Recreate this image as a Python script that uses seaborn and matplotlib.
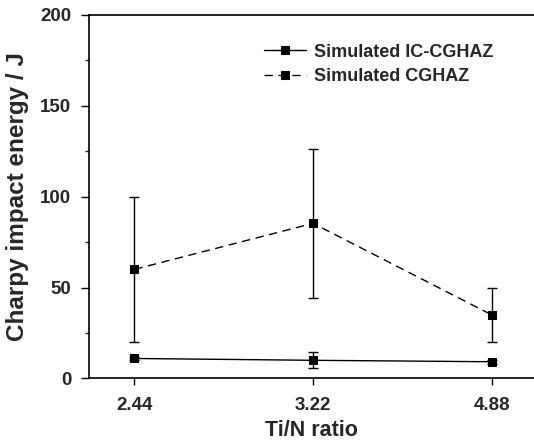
import numpy as np
import pandas as pd
import matplotlib
matplotlib.use("Agg")
import matplotlib.pyplot as plt
import seaborn as sns

categories = ["2.44", "3.22", "4.88"]
ic_cghaz = [11, 10, 9.2]
ic_cghaz_err = [1.0, 4.4, 1.0]
cghaz = [60, 85.3, 35]
cghaz_err_low = [40, 41.3, 15]
cghaz_err_high = [40, 40.7, 15]

sns.set_style("ticks")
plt.rcParams['font.family'] = ['Liberation Sans', 'DejaVu Sans']
plt.rcParams['font.weight'] = 'bold'

fig = plt.figure(figsize=(5.34, 4.42), dpi=100)
ax = fig.add_axes([0.1672, 0.1437, 0.8328, 0.823])

pos = np.arange(len(categories))
df_ic = pd.DataFrame({"x": pos, "y": ic_cghaz})
df_cg = pd.DataFrame({"x": pos, "y": cghaz})

sns.lineplot(data=df_ic, x="x", y="y", ax=ax, color="black", linewidth=1.0,
             marker="s", markersize=6, markeredgecolor="black",
             label="Simulated IC-CGHAZ", linestyle="-")
sns.lineplot(data=df_cg, x="x", y="y", ax=ax, color="black", linewidth=1.0,
             marker="s", markersize=6, markeredgecolor="black",
             label="Simulated CGHAZ", linestyle=(0, (6, 4)))
ax.errorbar(pos, ic_cghaz, yerr=ic_cghaz_err, fmt="none", ecolor="black",
            elinewidth=1.0, capsize=3.5, capthick=1.0)
ax.errorbar(pos, cghaz, yerr=[cghaz_err_low, cghaz_err_high], fmt="none",
            ecolor="black", elinewidth=1.0, capsize=3.5, capthick=1.0)

ax.set_xlim(-0.253, 2.237)
ax.set_ylim(0, 200)
ax.set_xticks(pos)
ax.set_xticklabels(categories)
ax.set_yticks([0, 50, 100, 150, 200])
ax.set_yticks([25, 75, 125, 175], minor=True)
ax.tick_params(axis="both", which="major", labelsize=13.5, width=1.0, color="black", direction="out")
ax.tick_params(axis="y", which="major", length=6, pad=7)
ax.tick_params(axis="x", which="major", length=5, pad=8)
ax.tick_params(axis="y", which="minor", length=3, width=1.0, direction="out")
for lab in ax.get_xticklabels() + ax.get_yticklabels():
    lab.set_fontweight("bold")

ax.set_xlabel("Ti/N ratio", fontsize=15.5, fontweight="bold", labelpad=5)
ax.set_ylabel("Charpy impact energy / J", fontsize=17.5, fontweight="bold", labelpad=8)

for s in ["left", "bottom", "top"]:
    ax.spines[s].set_visible(True)
    ax.spines[s].set_linewidth(1.2)
    ax.spines[s].set_color("black")
ax.spines["right"].set_visible(False)

leg = ax.legend(loc="upper left", bbox_to_anchor=(0.377, 0.94), frameon=False,
                fontsize=13, handlelength=2.3, handletextpad=0.45, labelspacing=0.4,
                borderaxespad=0)
for t in leg.get_texts():
    t.set_fontweight("bold")

fig.savefig("out.png", dpi=100)
